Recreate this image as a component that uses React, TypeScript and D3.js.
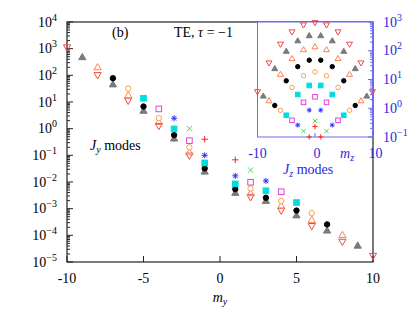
import React from 'react'
import * as d3 from 'd3'

// J_y modes (main plot): m_y positions and values per mode group
const mY10 = [-10, -8, -6, -4, -2, 2, 4, 6, 8, 10]
const vY10 = [1120, 102, 11.2, 1.26, 0.098, 2.7e-3, 8.5e-4, 2.24e-4, 5.75e-5, 1.7e-5]
const mY9 = [-9, -7, -5, -3, -1, 1, 3, 5, 7, 9]
const vY9 = [479, 45.7, 4.68, 0.427, 0.0245, 3.9e-3, 1.95e-3, 5.6e-4, 1.51e-4, 4.1e-5]
const mY8 = [-8, -6, -4, -2, 2, 4, 6, 8]
const vY8 = [200, 17.8, 1.78, 0.129, 3.8e-3, 1.26e-3, 3.8e-4, 1.02e-4]
const mY7 = [-7, -5, -3, -1, 1, 3, 5, 7]
const vY7 = [78, 6.8, 0.575, 0.0324, 5.4e-3, 2.57e-3, 8.5e-4, 2.57e-4]
const mY6 = [-6, -4, -2, 2, 4, 6]
const vY6 = [32, 2.5, 0.2, 5.75e-3, 1.95e-3, 6.8e-4]
const mY5 = [-5, -3, -1, 1, 3, 5]
const vY5 = [13.8, 0.98, 0.052, 8.5e-3, 4.7e-3, 1.7e-3]
const mY4 = [-4, -2, 2, 4]
const vY4 = [5.5, 0.355, 9.8e-3, 4.3e-3]
const mY3 = [-3, -1, 1, 3]
const vY3 = [2.45, 0.1, 0.017, 0.011]
const mY2 = [-2, 2]
const vY2 = [1.0, 0.028]
const mY1 = [-1, 1]
const vY1 = [0.4, 0.068]

// J_z modes (inset)
const mZ10 = [-10, -8, -6, -4, -2, 0, 2, 4, 6, 8, 10]
const vZ10 = [3.8, 38, 171, 456, 798, 958, 798, 456, 171, 38, 3.8]
const mZ9 = [-9, -7, -5, -3, -1, 1, 3, 5, 7, 9]
const vZ9 = [2.63, 23.7, 95, 220, 331, 331, 220, 95, 23.7, 2.63]
const mZ8 = [-8, -6, -4, -2, 0, 2, 4, 6, 8]
const vZ8 = [1.8, 15, 53, 108, 136, 108, 53, 15, 1.8]
const mZ7 = [-7, -5, -3, -1, 1, 3, 5, 7]
const vZ7 = [1.25, 9, 28, 47, 47, 28, 9, 1.25]
const mZ6 = [-6, -4, -2, 0, 2, 4, 6]
const vZ6 = [0.85, 5.3, 13.5, 18.5, 13.5, 5.3, 0.85]
const mZ5 = [-5, -3, -1, 1, 3, 5]
const vZ5 = [0.57, 3.0, 6.2, 6.2, 3.0, 0.57]
const mZ4 = [-4, -2, 0, 2, 4]
const vZ4 = [0.38, 1.6, 2.5, 1.6, 0.38]
const mZ3 = [-3, -1, 1, 3]
const vZ3 = [0.26, 0.86, 0.86, 0.26]
const mZ2 = [-2, 0, 2]
const vZ2 = [0.16, 0.36, 0.16]
const mZ1 = [-1, 0, 1]
const vZ1 = [0.101, 0.23, 0.101]

const styles = [
  { shape: 'tridown', color: '#f04848' },
  { shape: 'triup', color: '#7a7a7a', filled: true },
  { shape: 'triup', color: '#ff7f50' },
  { shape: 'circle', color: '#000000', filled: true },
  { shape: 'circle', color: '#ffa040' },
  { shape: 'square', color: '#00dde0', filled: true },
  { shape: 'square', color: '#e040e0' },
  { shape: 'star', color: '#3030ff' },
  { shape: 'cross', color: '#40e040' },
  { shape: 'plus', color: '#ff2020' },
]

const mainGroups = [
  [mY10, vY10], [mY9, vY9], [mY8, vY8], [mY7, vY7], [mY6, vY6],
  [mY5, vY5], [mY4, vY4], [mY3, vY3], [mY2, vY2], [mY1, vY1],
]
const insetGroups = [
  [mZ10, vZ10], [mZ9, vZ9], [mZ8, vZ8], [mZ7, vZ7], [mZ6, vZ6],
  [mZ5, vZ5], [mZ4, vZ4], [mZ3, vZ3], [mZ2, vZ2], [mZ1, vZ1],
]

const mainDecades = [-5, -4, -3, -2, -1, 0, 1, 2, 3, 4]
const insetDecades = [-1, 0, 1, 2, 3]
const mainXTicks = [-10, -5, 0, 5, 10]
const insetXTicks = [-10, 0, 10]

const font = '"Liberation Serif", "DejaVu Serif", serif'
const blue = '#2828e6'

const Marker = ({ shape, color, filled, x, y, k = 1 }) => {
  const r = 3.3 * k
  if (shape === 'circle')
    return <circle cx={x} cy={y} r={2.7 * k} fill={filled ? color : 'white'} stroke={color} strokeWidth={1} />
  if (shape === 'square')
    return <rect x={x - 2.8 * k} y={y - 2.8 * k} width={5.6 * k} height={5.6 * k} fill={filled ? color : 'none'} stroke={color} strokeWidth={1} />
  if (shape === 'triup')
    return <path d={`M${x},${y - r - 0.5}L${x + r + 0.3},${y + r - 0.8}L${x - r - 0.3},${y + r - 0.8}Z`} fill={filled ? color : 'none'} stroke={color} strokeWidth={1} />
  if (shape === 'tridown')
    return <path d={`M${x},${y + r + 0.5}L${x + r + 0.3},${y - r + 0.8}L${x - r - 0.3},${y - r + 0.8}Z`} fill="none" stroke={color} strokeWidth={1} />
  const c = 2.7 * k
  if (shape === 'cross')
    return <path d={`M${x - c},${y - c}L${x + c},${y + c}M${x - c},${y + c}L${x + c},${y - c}`} stroke={color} strokeWidth={1} />
  const p = 3.2 * k
  if (shape === 'plus')
    return <path d={`M${x - p},${y}L${x + p},${y}M${x},${y - p}L${x},${y + p}`} stroke={color} strokeWidth={1} />
  const s = 3 * k
  const d = 2.2 * k
  return <path d={`M${x - s},${y}L${x + s},${y}M${x},${y - s}L${x},${y + s}M${x - d},${y - d}L${x + d},${y + d}M${x - d},${y + d}L${x + d},${y - d}`} stroke={color} strokeWidth={1} />
}

const Pow = ({ x, y, e, anchor = 'end', fill = 'black' }) => (
  <text x={x} y={y} textAnchor={anchor} fontFamily={font} fontSize={14} fill={fill}>
    10<tspan dy={-6} fontSize={10}>{e < 0 ? '\u2212' + -e : e}</tspan>
  </text>
)

const App = () => {
  const x = d3.scaleLinear().domain([-10, 10]).range([67, 373])
  const y = d3.scaleLog().domain([1e-5, 1e4]).range([262, 22])
  const xi = d3.scaleLinear().domain([-10, 10]).range([257.5, 372.5])
  const yi = d3.scaleLog().domain([0.1, 1000]).range([137, 22])

  const minor = (decs, s) => {
    const out = []
    decs.slice(0, -1).forEach((d) => {
      for (let k = 2; k < 10; k++) out.push(s(k * Math.pow(10, d)))
    })
    return out
  }

  return (
    <svg width={415} height={317} style={{ position: 'absolute', left: 0, top: 0, background: 'white' }}>
      {/* main frame */}
      <rect x={67} y={22} width={306} height={240} fill="none" stroke="#222" strokeWidth={1.2} />
      {mainDecades.map((d) => (
        <line key={'mj' + d} x1={67} x2={73} y1={y(Math.pow(10, d))} y2={y(Math.pow(10, d))} stroke="#222" />
      ))}
      {minor(mainDecades, y).map((v, i) => (
        <line key={'mn' + i} x1={67} x2={70} y1={v} y2={v} stroke="#222" />
      ))}
      {mainXTicks.map((t) => (
        <line key={'xt' + t} x1={x(t)} x2={x(t)} y1={262} y2={256} stroke="#222" />
      ))}
      {mainDecades.map((d) => (
        <Pow key={'yl' + d} x={57} y={y(Math.pow(10, d)) + 4.5} e={d} />
      ))}
      {mainXTicks.map((t) => (
        <text key={'xl' + t} x={x(t)} y={283} textAnchor="middle" fontFamily={font} fontSize={14}>
          {t}
        </text>
      ))}
      <text x={220} y={302} textAnchor="middle" fontFamily={font} fontSize={14} fontStyle="italic">
        m<tspan dy={3} fontSize={10}>y</tspan>
      </text>
      <text x={112} y={37} fontFamily={font} fontSize={14}>(b)</text>
      <text x={174} y={37} fontFamily={font} fontSize={14}>
        TE, <tspan fontStyle="italic">τ</tspan> = −1
      </text>
      <text x={90} y={150} fontFamily={font} fontSize={14}>
        <tspan fontStyle="italic">J</tspan>
        <tspan dy={3} fontSize={10} fontStyle="italic">y</tspan>
        <tspan dy={-3}> modes</tspan>
      </text>

      {mainGroups.map(([ms, vs], g) =>
        ms.map((m, i) => <Marker key={`m${g}-${i}`} {...styles[g]} x={x(m)} y={y(vs[i])} />)
      )}

      {/* inset */}
      <rect x={257.5} y={22} width={115} height={115} fill="white" stroke="#6b6bf0" strokeWidth={1} />
      {insetDecades.map((d) => (
        <line key={'ij' + d} x1={372.5} x2={368} y1={yi(Math.pow(10, d))} y2={yi(Math.pow(10, d))} stroke="#6b6bf0" />
      ))}
      {minor(insetDecades, yi).map((v, i) => (
        <line key={'in' + i} x1={372.5} x2={370} y1={v} y2={v} stroke="#6b6bf0" />
      ))}
      {insetXTicks.map((t) => (
        <line key={'ixt' + t} x1={xi(t)} x2={xi(t)} y1={137} y2={133} stroke="#6b6bf0" />
      ))}
      {insetGroups.map(([ms, vs], g) =>
        ms.map((m, i) => <Marker key={`i${g}-${i}`} {...styles[g]} k={0.82} x={xi(m)} y={yi(vs[i])} />)
      )}
      {insetDecades.map((d) => (
        <Pow key={'iyl' + d} x={383} y={yi(Math.pow(10, d)) + 4.5} e={d} anchor="start" fill={blue} />
      ))}
      {insetXTicks.map((t) => (
        <text key={'ixl' + t} x={xi(t) + (t === 0 ? 2 : t > 0 ? 3 : 0)} y={158} textAnchor="middle" fontFamily={font} fontSize={14} fill={blue}>
          {t}
        </text>
      ))}
      <text x={340} y={158} fontFamily={font} fontSize={14} fontStyle="italic" fill={blue}>
        m<tspan dy={3} fontSize={10}>z</tspan>
      </text>
      <text x={283} y={174} fontFamily={font} fontSize={14} fill={blue}>
        <tspan fontStyle="italic">J</tspan>
        <tspan dy={3} fontSize={10} fontStyle="italic">z</tspan>
        <tspan dy={-3}> modes</tspan>
      </text>
    </svg>
  )
}

export default App
